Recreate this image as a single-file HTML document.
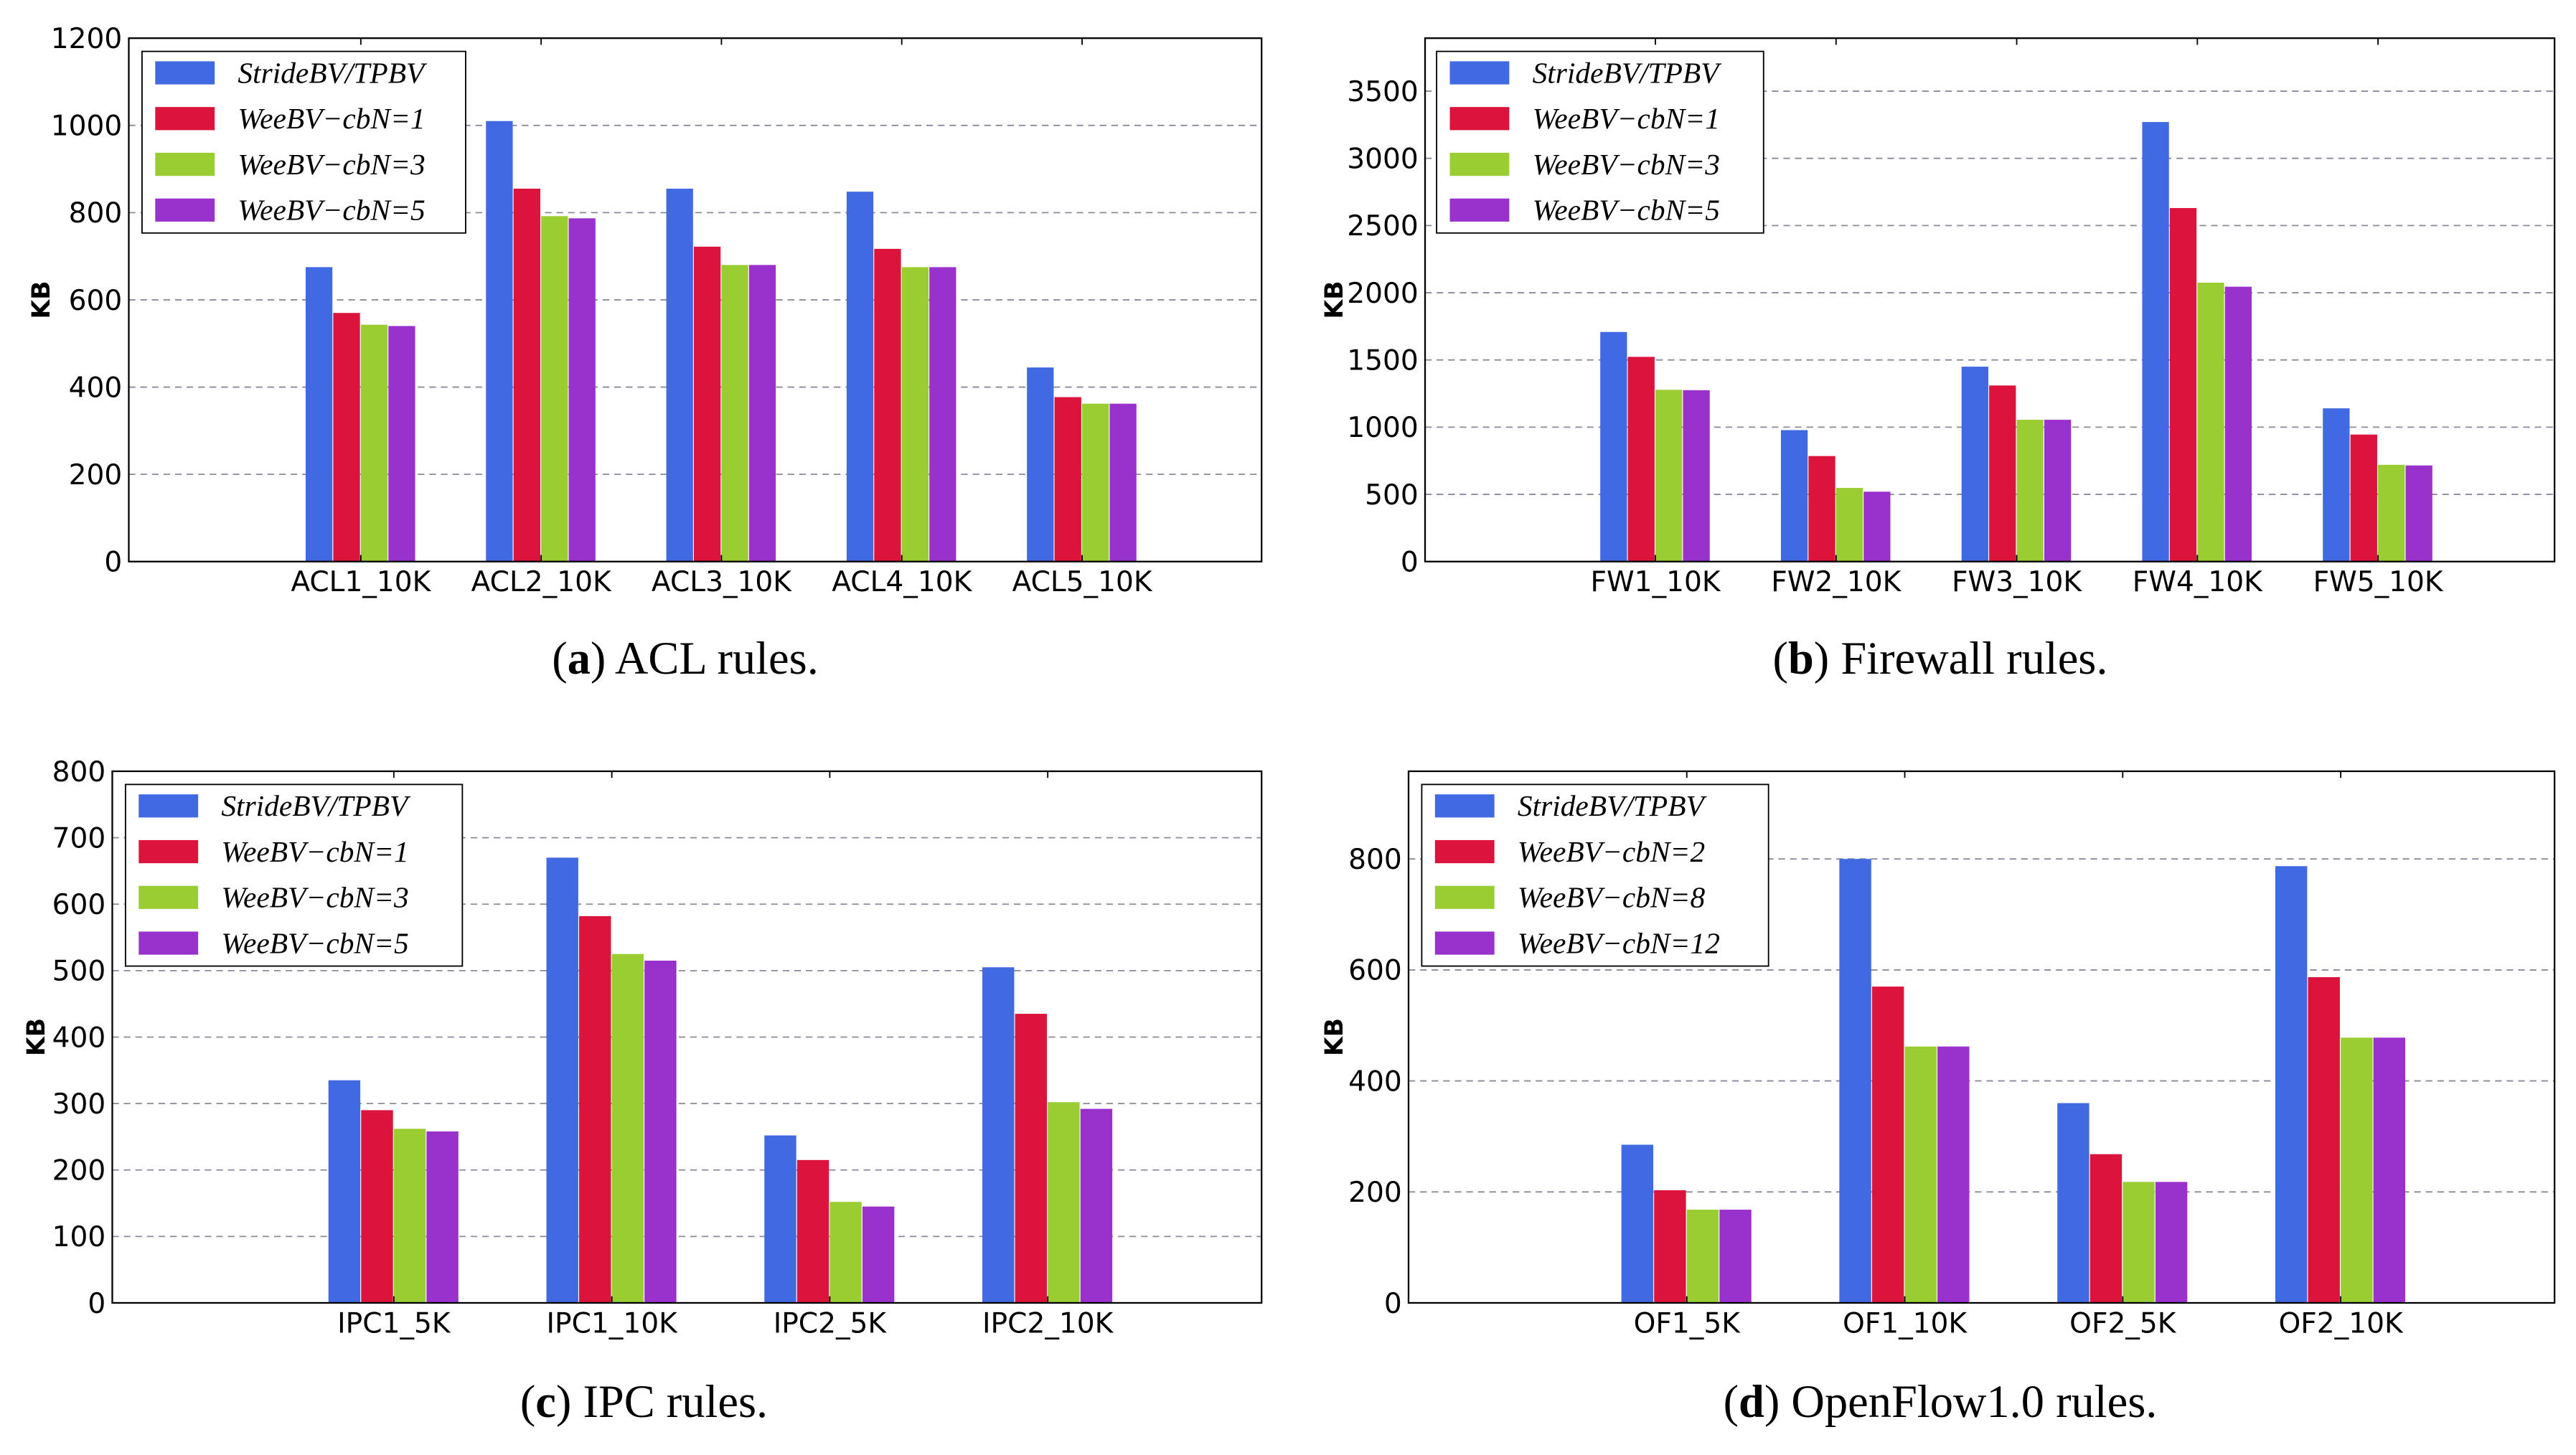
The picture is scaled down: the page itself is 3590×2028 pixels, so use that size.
<!DOCTYPE html>
<html><head><meta charset="utf-8">
<style>
html,body{margin:0;padding:0;background:#fff;}
svg{display:block;}
.tick{font-family:"DejaVu Sans","Liberation Sans",sans-serif;font-size:17px;fill:#000;}
.leg{font-family:"Liberation Serif",serif;font-style:italic;font-size:18px;fill:#000;}
.cap{font-family:"Liberation Serif",serif;font-size:28px;fill:#000;}
.ylab{font-family:"DejaVu Sans","Liberation Sans",sans-serif;font-size:15px;font-weight:bold;fill:#000;}
</style></head>
<body>
<svg id="fig" width="3590" height="2028" viewBox="0 0 1560 881" xmlns="http://www.w3.org/2000/svg">
<rect width="1560" height="881" fill="#fff"/>
<text class="cap" x="415" y="408" text-anchor="middle">(<tspan font-weight="bold">a</tspan>) ACL rules.</text>
<text class="cap" x="1175" y="408" text-anchor="middle">(<tspan font-weight="bold">b</tspan>) Firewall rules.</text>
<text class="cap" x="390" y="858" text-anchor="middle">(<tspan font-weight="bold">c</tspan>) IPC rules.</text>
<text class="cap" x="1175" y="858" text-anchor="middle">(<tspan font-weight="bold">d</tspan>) OpenFlow1.0 rules.</text>
</svg>
<script>
// Panel A data
const aCategories = ["ACL1_10K","ACL2_10K","ACL3_10K","ACL4_10K","ACL5_10K"];
const aStride = [675,1010,855,848,445];
const aCbA = [570,855,722,717,377];
const aCbB = [543,792,680,675,362];
const aCbC = [540,787,680,675,362];
const aTicks = [0,200,400,600,800,1000,1200];
const aLegend = ["StrideBV/TPBV","WeeBV\u2212cbN=1","WeeBV\u2212cbN=3","WeeBV\u2212cbN=5"];
// Panel B data
const bCategories = ["FW1_10K","FW2_10K","FW3_10K","FW4_10K","FW5_10K"];
const bStride = [1708,978,1450,3270,1140];
const bCbA = [1523,785,1310,2630,945];
const bCbB = [1278,548,1055,2075,720];
const bCbC = [1275,520,1055,2045,715];
const bTicks = [0,500,1000,1500,2000,2500,3000,3500];
const bLegend = ["StrideBV/TPBV","WeeBV\u2212cbN=1","WeeBV\u2212cbN=3","WeeBV\u2212cbN=5"];
// Panel C data
const cCategories = ["IPC1_5K","IPC1_10K","IPC2_5K","IPC2_10K"];
const cStride = [335,670,252,505];
const cCbA = [290,582,215,435];
const cCbB = [262,525,152,302];
const cCbC = [258,515,145,292];
const cTicks = [0,100,200,300,400,500,600,700,800];
const cLegend = ["StrideBV/TPBV","WeeBV\u2212cbN=1","WeeBV\u2212cbN=3","WeeBV\u2212cbN=5"];
// Panel D data
const dCategories = ["OF1_5K","OF1_10K","OF2_5K","OF2_10K"];
const dStride = [285,800,360,787];
const dCbA = [203,570,268,587];
const dCbB = [168,462,218,478];
const dCbC = [168,462,218,478];
const dTicks = [0,200,400,600,800];
const dLegend = ["StrideBV/TPBV","WeeBV\u2212cbN=2","WeeBV\u2212cbN=8","WeeBV\u2212cbN=12"];

const colors = ["#4169e1","#dc143c","#9acd32","#9932cc"];
const NS = "http://www.w3.org/2000/svg";
const svg = document.getElementById("fig");
function mk(tag, attrs, parent){
  const e = document.createElementNS(NS, tag);
  for (const k in attrs) e.setAttribute(k, attrs[k]);
  (parent||svg).appendChild(e);
  return e;
}
function panel(p){
  const g = mk("g", {});
  
  
  const y = v => p.y0 - (v / p.ymax) * (p.y0 - p.y1);
  const x = i => p.t0 + p.step * i;
  p.ticks.forEach(t => {
    const yy = y(t);
    if (t > 0 && t < p.ymax) {
      const gl = mk("line", {x1:p.x0, x2:p.x1, y1:yy, y2:yy, stroke:"#8a8a9a", "stroke-width":0.8, "stroke-dasharray":"4,3"}, g);
      
      
    }
    const tl = mk("text", {x:p.x0-4, y:yy+6, "text-anchor":"end", class:"tick"}, g);
    tl.textContent = t;
    
    
  });
  const series = [p.s0, p.s1, p.s2, p.s3];
  series.forEach((arr, si) => {
    arr.forEach((v, i) => {
      const bx = x(i) - 2 * p.bw + si * p.bw;
      const r = mk("rect", {x:bx, y:y(v), width:p.bw - 0.5, height:p.y0 - y(v), fill:colors[si]}, g);
      
      
    });
  });
  const fr = mk("rect", {x:p.x0, y:p.y1, width:p.x1-p.x0, height:p.y0-p.y1, fill:"none", stroke:"#000", "stroke-width":1}, g);
  
  
  p.cats.forEach((c, i) => {
    mk("line", {x1:x(i), x2:x(i), y1:p.y1, y2:p.y1+4, stroke:"#000", "stroke-width":0.8}, g);
    mk("line", {x1:x(i), x2:x(i), y1:p.y0, y2:p.y0-4, stroke:"#000", "stroke-width":0.8}, g);
    const tl = mk("text", {x:x(i), y:p.y0+18, "text-anchor":"middle", class:"tick"}, g);
    tl.textContent = c;
    
    
  });
  const yl = mk("text", {x:0, y:0, "text-anchor":"middle", class:"ylab", transform:"translate(" + p.ylx + "," + ((p.y0+p.y1)/2) + ") rotate(-90)"}, g);
  yl.textContent = "KB";
  
  
  const lg = mk("g", {}, g);
  
  
  mk("rect", {x:p.lx, y:p.ly, width:p.lw, height:110, fill:"#fff", stroke:"#000", "stroke-width":0.8}, lg);
  p.legend.forEach((name, k) => {
    const cy = p.ly + 13 + k * 27.7;
    const sw = mk("rect", {x:p.lx+8, y:cy-7, width:36, height:14, fill:colors[k]}, lg);
    
    
    const t = mk("text", {x:p.lx+58, y:cy+6, class:"leg"}, lg);
    t.textContent = name;
    
    
  });
}
panel({id:"acl", cats:aCategories, s0:aStride, s1:aCbA, s2:aCbB, s3:aCbC, ticks:aTicks, legend:aLegend,
  x0:78, x1:764, y0:340, y1:23, ymax:1200, t0:218.5, step:109.2, bw:16.7, ylx:30, lx:86, ly:31, lw:196});
panel({id:"firewall", cats:bCategories, s0:bStride, s1:bCbA, s2:bCbB, s3:bCbC, ticks:bTicks, legend:bLegend,
  x0:863, x1:1547, y0:340, y1:23, ymax:3894, t0:1002.5, step:109.4, bw:16.7, ylx:813, lx:870, ly:31, lw:198});
panel({id:"ipc", cats:cCategories, s0:cStride, s1:cCbA, s2:cCbB, s3:cCbC, ticks:cTicks, legend:cLegend,
  x0:68, x1:764, y0:789, y1:467, ymax:800, t0:238.5, step:132, bw:19.8, ylx:27, lx:76, ly:475, lw:204});
panel({id:"openflow", cats:dCategories, s0:dStride, s1:dCbA, s2:dCbB, s3:dCbC, ticks:dTicks, legend:dLegend,
  x0:853, x1:1547, y0:789, y1:467, ymax:958, t0:1021.5, step:132, bw:19.8, ylx:813, lx:861, ly:475, lw:210});
</script>
</body></html>
